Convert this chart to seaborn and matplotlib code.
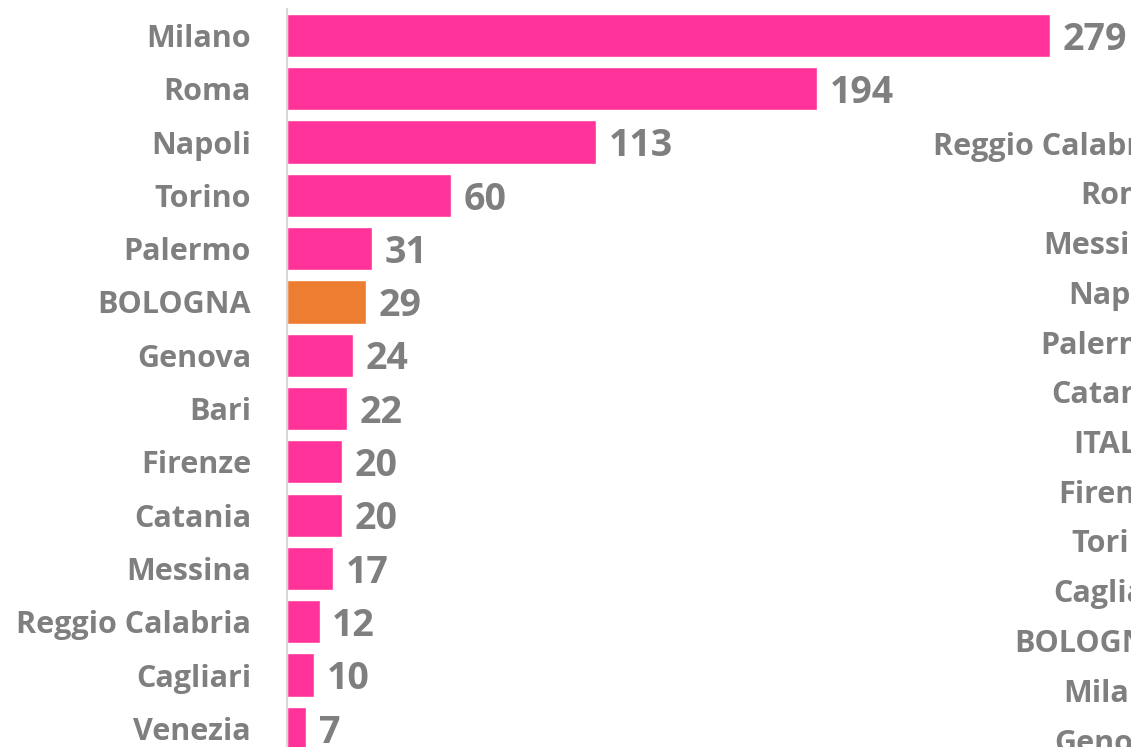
import matplotlib
matplotlib.use("Agg")
import pandas as pd
import matplotlib.pyplot as plt
import seaborn as sns

# data
cities = ['Milano', 'Roma', 'Napoli', 'Torino', 'Palermo', 'BOLOGNA', 'Genova',
          'Bari', 'Firenze', 'Catania', 'Messina', 'Reggio Calabria', 'Cagliari', 'Venezia']
values = [279, 194, 113, 60, 31, 29, 24, 22, 20, 20, 17, 12, 10, 7]
highlight = 'BOLOGNA'

# labels of the neighbouring chart, cut off at the right edge
second_cities = ['Reggio Calabria', 'Roma', 'Messina', 'Napoli', 'Palermo', 'Catania',
                 'ITALIA', 'Firenze', 'Torino', 'Cagliari', 'BOLOGNA', 'Milano', 'Genova']

PINK = '#FF3399'
ORANGE = '#ED7D31'
GRAY = '#7F7F7F'
FONT = 'Open Sans'
LABEL_SIZE = 22
VALUE_SIZE = 27

sns.set_style('white')
plt.rcParams['font.family'] = [FONT, 'DejaVu Sans']

df = pd.DataFrame({'city': cities, 'value': values})
palette = {c: (ORANGE if c == highlight else PINK) for c in cities}

W, H = 1131, 747
fig = plt.figure(figsize=(W / 100, H / 100), dpi=100)

# main axes: positioned in pixels, bottom runs slightly off the figure
top_px, bot_px = 8.8, 755
left_px, width_px = 287, 820
ax = fig.add_axes([left_px / W, (H - bot_px) / H, width_px / W, (bot_px - top_px) / H])

sns.barplot(data=df, x='value', y='city', hue='city', palette=palette,
            legend=False, width=0.81, saturation=1, ax=ax, orient='h')
ax.set_xlim(0, 300)
ax.set_ylim(len(cities) - 0.5, -0.5)
ax.set_xlabel('')
ax.set_ylabel('')
ax.set_xticks([])
ax.tick_params(axis='y', length=0, pad=26)
for lab in ax.get_yticklabels():
    lab.set_fontsize(LABEL_SIZE)
    lab.set_fontweight('bold')
    lab.set_color(GRAY)
for s in ['top', 'right', 'bottom']:
    ax.spines[s].set_visible(False)
ax.spines['left'].set_color('#D9D9D9')
ax.spines['left'].set_linewidth(1.5)

for cont in ax.containers:
    anns = ax.bar_label(cont, fmt='%d', padding=9, fontsize=VALUE_SIZE, fontweight='bold',
                        color=GRAY, fontfamily=FONT)
    for a in anns:
        a.xyann = (9, -3)

# second chart: only its category labels show at the right edge
sp = 49.75
top2 = 143 - 0.5 * sp
bot2 = top2 + sp * len(second_cities)
ax2 = fig.add_axes([1175 / W, (H - bot2) / H, 0.2, (bot2 - top2) / H])
ax2.set_ylim(len(second_cities) - 0.5, -0.5)
ax2.set_yticks(range(len(second_cities)))
ax2.set_yticklabels(second_cities, fontsize=LABEL_SIZE, fontweight='bold', color=GRAY)
ax2.set_xticks([])
ax2.tick_params(axis='y', length=0, pad=5)
for s in ax2.spines.values():
    s.set_visible(False)

fig.savefig('out.png', dpi=100)
